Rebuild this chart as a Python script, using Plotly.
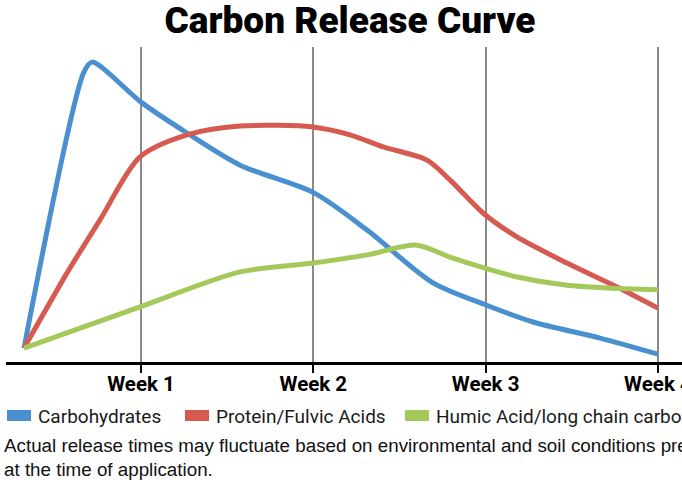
import plotly.graph_objects as go

# ---- data (x in weeks, y = relative carbon release) ----
week_ticks = [1, 2, 3, 4]
week_labels = ["Week 1", "Week 2", "Week 3", "Week 4"]

carb_x = [0.321, 0.669, 0.716, 1.0, 1.267, 1.575, 2.004, 2.312, 2.695, 3.002, 3.275, 3.664, 4.0]
carb_y = [4.4, 92.1, 95.2, 82.5, 72.7, 62.5, 53.7, 41.9, 25.1, 18.1, 12.7, 7.6, 2.5]

prot_x = [0.321, 0.571, 0.762, 0.994, 1.267, 1.575, 1.998, 2.213, 2.405, 2.660, 2.793, 2.985, 3.182, 3.472, 3.763, 4.0]
prot_y = [4.4, 28.3, 45.1, 65.1, 72.1, 74.9, 74.6, 72.1, 68.3, 64.1, 57.8, 47.3, 39.7, 31.4, 23.8, 17.1]

humic_x = [0.321, 0.994, 1.575, 1.998, 2.312, 2.602, 2.793, 2.996, 3.182, 3.472, 4.0]
humic_y = [4.4, 17.5, 28.6, 31.4, 34.0, 37.1, 33.3, 29.8, 27.0, 24.4, 22.9]

series_names = ["Carbohydrates", "Protein/Fulvic Acids", "Humic Acid/long chain carbon"]
series_colors = ["#4A90D0", "#D65A50", "#A5C85A"]

title_text = "Carbon Release Curve"
note_text = ("Actual release times may fluctuate based on environmental and soil conditions present<br>"
             "at the time of application.")

W, H = 682, 482
ML, MR, MT, MB = 6, 0, 47, 120
PW, PH = W - ML - MR, H - MT - MB


def px(x):
    return (x - ML) / PW


def py(y):
    return (H - MB - y) / PH


fig = go.Figure()
for xs, ys, name, col in zip([carb_x, prot_x, humic_x], [carb_y, prot_y, humic_y],
                             series_names, series_colors):
    fig.add_trace(go.Scatter(x=xs, y=ys, mode="lines", name=name,
                             line=dict(color=col, width=5, shape="spline", smoothing=0.8),
                             showlegend=False))

# manual legend (clipped at right edge like the original)
legend_swatch_x = [7, 185, 405]
for sx, name, col in zip(legend_swatch_x, series_names, series_colors):
    fig.add_shape(type="rect", xref="paper", yref="paper",
                  x0=px(sx), x1=px(sx + 24), y0=py(421), y1=py(410),
                  fillcolor=col, line=dict(width=0))
    fig.add_annotation(xref="paper", yref="paper", x=px(sx + 29), y=py(416),
                       xanchor="left", yanchor="middle", showarrow=False,
                       text=name, font=dict(family="Roboto", size=19, color="#1a1a1a"))

fig.add_annotation(xref="paper", yref="paper", x=px(2), y=py(433),
                   xanchor="left", yanchor="top", showarrow=False, align="left",
                   text=note_text,
                   font=dict(family="Liberation Sans, Arial", size=18.8, color="#111111"))

fig.update_layout(
    width=W, height=H,
    margin=dict(l=ML, r=MR, t=MT, b=MB, autoexpand=False),
    paper_bgcolor="white", plot_bgcolor="white",
    title=dict(text=title_text, x=350 / W, xanchor="center", y=1 - 20 / H, yanchor="middle",
               font=dict(family="Roboto", size=37, color="#000000", weight=900)),
    xaxis=dict(range=[1 + (ML - 141) / 172.3, 1 + (W - 141) / 172.3],
               tickvals=week_ticks, ticktext=week_labels,
               showgrid=True, gridcolor="#8a8a8a", gridwidth=2,
               showline=True, linecolor="#000000", linewidth=2.5,
               ticks="outside", ticklen=8, tickwidth=2, tickcolor="#000000",
               ticklabeloverflow="allow", ticklabelstandoff=-6,
               tickfont=dict(family="Roboto", size=20.5, color="#000000", weight="bold"),
               zeroline=False, fixedrange=True),
    yaxis=dict(range=[0, 100], visible=False, showgrid=False, zeroline=False, fixedrange=True),
)

fig.write_html("out.html", config={"displayModeBar": False},
               post_script="document.body.style.margin='0';")
